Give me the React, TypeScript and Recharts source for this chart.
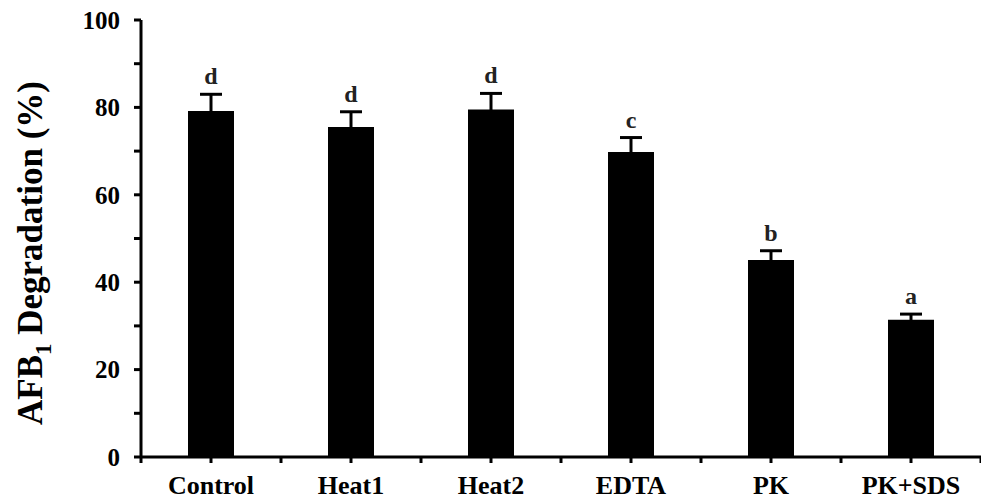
import {
  Bar,
  ComposedChart,
  ErrorBar,
  LabelList,
  Line,
  XAxis,
  YAxis,
} from "recharts";

const categories = ["Control", "Heat1", "Heat2", "EDTA", "PK", "PK+SDS"];
const degradation = [79.2, 75.5, 79.5, 69.8, 45.1, 31.4];
const sd = [3.8, 3.5, 3.7, 3.3, 2.1, 1.3];
const letters = ["d", "d", "d", "c", "b", "a"];
const yTicks = [0, 10, 20, 30, 40, 50, 60, 70, 80, 90, 100];

const FONT = "'Liberation Serif', 'Times New Roman', serif";

const data = categories.map((name, i) => ({
  name,
  pos: i + 0.5,
  value: degradation[i],
  sd: sd[i],
  top: degradation[i] + sd[i],
  letter: letters[i],
}));

// ticks at category boundaries and centres
const xTicks = Array.from({ length: categories.length * 2 + 1 }, (_, k) => k / 2);

function YTitle() {
  return (
    <text
      x={0}
      y={0}
      transform="translate(42, 253) rotate(-90)"
      textAnchor="middle"
      fontFamily={FONT}
      fontWeight="bold"
      fontSize={35}
      fill="#000"
    >
      AFB
      <tspan fontSize={23} dy={9}>
        1
      </tspan>
      <tspan dy={-9}> Degradation (%)</tspan>
    </text>
  );
}

export default function App() {
  return (
    <div style={{ position: "absolute", left: 0, top: 0, background: "#fff" }}>
      <ComposedChart
        width={981}
        height={502}
        data={data}
        margin={{ top: 20, right: 0, bottom: 1, left: 0 }}
      >
        <XAxis
          type="number"
          dataKey="pos"
          domain={[0, categories.length]}
          ticks={xTicks}
          interval={0}
          tickFormatter={(v: number) =>
            Number.isInteger(v) ? "" : categories[Math.floor(v)]
          }
          height={44}
          axisLine={{ stroke: "#000", strokeWidth: 3 }}
          tickLine={{ stroke: "#000", strokeWidth: 3 }}
          tickSize={6}
          tickMargin={13}
          tick={{ fill: "#000", fontFamily: FONT, fontWeight: "bold", fontSize: 26 }}
        />
        <YAxis
          type="number"
          domain={[0, 100]}
          ticks={yTicks}
          interval={0}
          tickFormatter={(v: number) => (v % 20 === 0 ? String(v) : "")}
          width={141}
          axisLine={{ stroke: "#000", strokeWidth: 3 }}
          tickLine={{ stroke: "#000", strokeWidth: 3 }}
          tickSize={7}
          tickMargin={14}
          tick={{ fill: "#000", fontFamily: FONT, fontWeight: "bold", fontSize: 25 }}
          label={<YTitle />}
        />
        <Bar dataKey="value" fill="#000" barSize={46} isAnimationActive={false}>
          <ErrorBar
            dataKey="sd"
            direction="y"
            width={11}
            stroke="#000"
            strokeWidth={3}
            isAnimationActive={false}
          />
        </Bar>
        <Line
          dataKey="top"
          stroke="none"
          dot={false}
          activeDot={false}
          isAnimationActive={false}
        >
          <LabelList
            dataKey="letter"
            position="top"
            offset={10}
            fill="#222"
            fontFamily={FONT}
            fontWeight="bold"
            fontSize={24}
          />
        </Line>
      </ComposedChart>
    </div>
  );
}
